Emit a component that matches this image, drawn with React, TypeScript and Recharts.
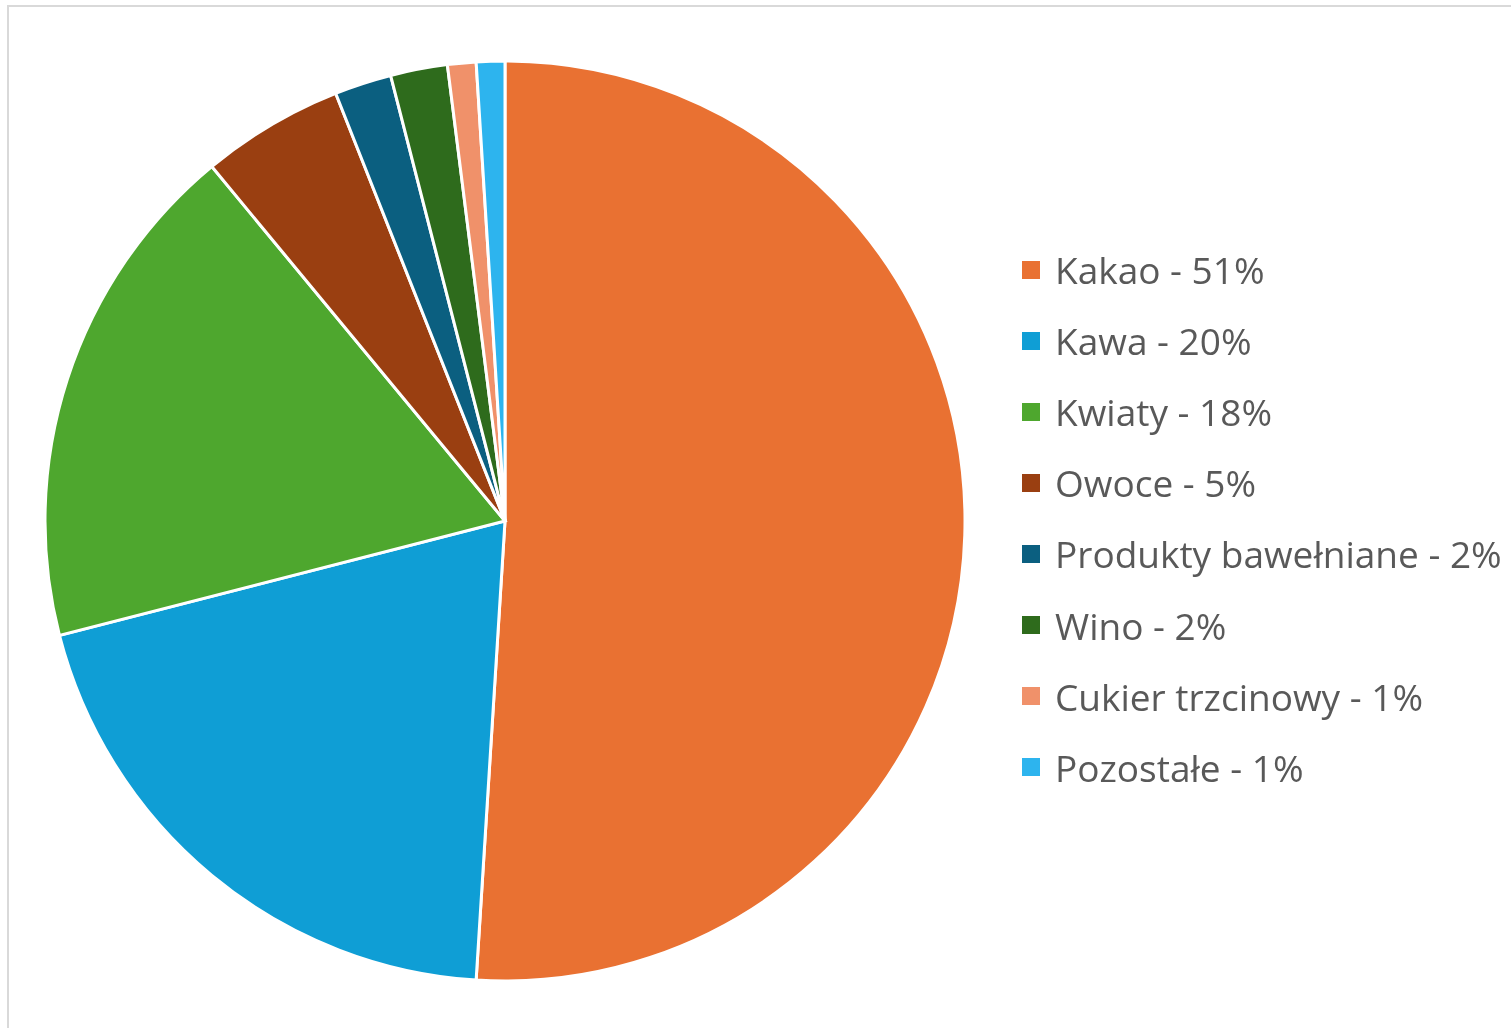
import React from 'react';
import { PieChart, Pie, Cell, Legend } from 'recharts';

const categories = ['Kakao', 'Kawa', 'Kwiaty', 'Owoce', 'Produkty bawełniane', 'Wino', 'Cukier trzcinowy', 'Pozostałe'];
const shares = [51, 20, 18, 5, 2, 2, 1, 1];
const colors = ['#E97132', '#0F9ED5', '#4EA72E', '#9A3F11', '#0B5F80', '#2E6B1C', '#F0916A', '#2DB4EE'];

const data = categories.map((name, i) => ({ name, value: shares[i] }));

function LegendList() {
    return <div style={{ fontFamily: 'Open Sans', fontSize: 37, color: '#595959' }}>
        {data.map((d, i) => (
            <div key={d.name} style={{ height: 71.1, display: 'flex', alignItems: 'center', whiteSpace: 'nowrap' }}>
                <span style={{ width: 18, height: 18, background: colors[i], display: 'inline-block', marginRight: 15 }} />
                <span>{`${d.name} - ${d.value}%`}</span>
            </div>
        ))}
    </div>;
}

export default function App() {
    return <>
        <div style={{ position: 'fixed', left: 7, top: 5, width: 1540, height: 1060, border: '2px solid #d9d9d9' }} />
        <div style={{ position: 'fixed', left: 0, top: 0 }}>
            <PieChart width={1511} height={1028} margin={{ top: 0, right: 0, bottom: 0, left: 0 }}>
                <Pie
                    data={data}
                    dataKey="value"
                    nameKey="name"
                    cx={505}
                    cy={521}
                    outerRadius={460}
                    startAngle={90}
                    endAngle={-270}
                    stroke="#ffffff"
                    strokeWidth={3}
                    isAnimationActive={false}
                >
                    {data.map((d, i) => <Cell key={d.name} fill={colors[i]} />)}
                </Pie>
                <Legend layout="vertical" content={<LegendList />} wrapperStyle={{ left: 1022, top: 234, width: 'auto' }} />
            </PieChart>
        </div>
    </>;
}
